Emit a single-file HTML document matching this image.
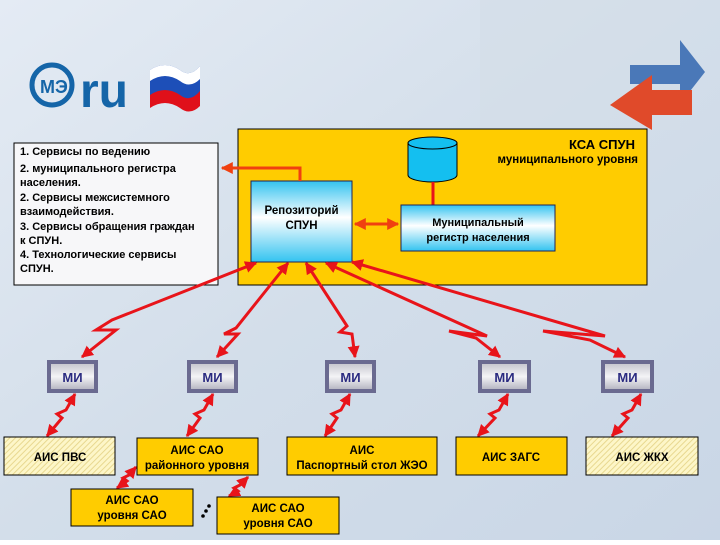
<!DOCTYPE html>
<html><head><meta charset="utf-8"><style>
body{margin:0;width:720px;height:540px;overflow:hidden;font-family:"Liberation Sans",sans-serif}
</style></head><body>
<svg width="720" height="540" viewBox="0 0 720 540" xmlns="http://www.w3.org/2000/svg" font-family="Liberation Sans, sans-serif">
<defs>
<linearGradient id="bg" x1="0" y1="0" x2="1" y2="1"><stop offset="0" stop-color="#e4ebf4"/><stop offset="0.5" stop-color="#d3deea"/><stop offset="1" stop-color="#c9d6e6"/></linearGradient>
<linearGradient id="cy" x1="0" y1="0" x2="0" y2="1"><stop offset="0" stop-color="#33c3f0"/><stop offset="0.45" stop-color="#ffffff"/><stop offset="1" stop-color="#33c3f0"/></linearGradient>
<linearGradient id="mi" x1="0" y1="0" x2="0" y2="1"><stop offset="0" stop-color="#c8c8d0"/><stop offset="0.5" stop-color="#f4f4f6"/><stop offset="1" stop-color="#b8b8c4"/></linearGradient>
<pattern id="ht" width="4" height="4" patternUnits="userSpaceOnUse" patternTransform="rotate(45)"><rect width="4" height="4" fill="#fdf6c8"/><rect width="1" height="4" fill="#e8d890"/></pattern>
<marker id="ah" viewBox="0 0 10 10" refX="9" refY="5" markerWidth="4" markerHeight="4" orient="auto-start-reverse"><path d="M0,0L10,5L0,10z" fill="#e8141a"/></marker>
<marker id="ao" viewBox="0 0 10 10" refX="9" refY="5" markerWidth="4" markerHeight="4" orient="auto-start-reverse"><path d="M0,0L10,5L0,10z" fill="#f04010"/></marker>
</defs>
<rect width="720" height="540" fill="url(#bg)"/>
<rect x="480" y="0" width="200" height="130" fill="#d4dde8" opacity="0.6"/>
<!-- logo -->
<circle cx="52" cy="85" r="20" fill="none" stroke="#1565a8" stroke-width="5"/>
<text x="40" y="93" font-size="18" font-weight="bold" fill="#1565a8">МЭ</text>
<text x="80" y="107" font-size="48" font-weight="bold" fill="#1565a8">ru</text>
<path d="M150,70 q15,-10 30,0 q10,8 20,-4 v38 q-10,10 -20,2 q-15,-10 -30,0z" fill="#1d4fb8"/>
<path d="M150,70 q15,-10 30,0 q10,8 20,-4 v13 q-10,10 -20,2 q-15,-10 -30,0z" fill="#ffffff"/>
<path d="M150,95 q15,-10 30,0 q10,8 20,-4 v15 q-10,10 -20,2 q-15,-10 -30,0z" fill="#e0101a"/>
<!-- arrows logo -->
<path d="M630,65 L680,65 L680,40 L705,72 L680,104 L680,84 L630,84z" fill="#4a78b8"/>
<path d="M692,90 L652,90 L652,75 L610,105 L652,130 L652,115 L692,115z" fill="#e04a2a"/>
<!-- text box -->
<rect x="14" y="143" width="204" height="142" fill="#f7f7f9" stroke="#000" stroke-width="1"/>
<g font-size="11" font-weight="bold" fill="#000">
<text x="20" y="155">1.      Сервисы по ведению</text>
<text x="20" y="172">2.     муниципального  регистра</text>
<text x="20" y="186">населения.</text>
<text x="20" y="201">2. Сервисы межсистемного</text>
<text x="20" y="215">взаимодействия.</text>
<text x="20" y="230">3. Сервисы обращения граждан</text>
<text x="20" y="244">к СПУН.</text>
<text x="20" y="258">4. Технологические сервисы</text>
<text x="20" y="272">СПУН.</text>
</g>
<!-- yellow KSA -->
<rect x="238" y="129" width="409" height="156" fill="#ffcc00" stroke="#000" stroke-width="1"/>
<text x="635" y="149" font-size="13" font-weight="bold" text-anchor="end">КСА СПУН</text>
<text x="638" y="163" font-size="11.5" font-weight="bold" text-anchor="end">муниципального уровня</text>
<!-- cylinder -->
<path d="M408,143 v32 a24.5,7 0 0 0 49,0 v-32z" fill="#14bff0" stroke="#000" stroke-width="1"/>
<ellipse cx="432.5" cy="143" rx="24.5" ry="6" fill="#14bff0" stroke="#000" stroke-width="1"/>
<line x1="433" y1="182" x2="433" y2="205" stroke="#e8141a" stroke-width="3"/>
<rect x="401" y="205" width="154" height="46" fill="url(#cy)" stroke="#225" stroke-width="1"/>
<text x="478" y="226" font-size="11" font-weight="bold" text-anchor="middle">Муниципальный</text>
<text x="478" y="241" font-size="11" font-weight="bold" text-anchor="middle">регистр населения</text>
<rect x="251" y="181" width="101" height="81" fill="url(#cy)" stroke="#225" stroke-width="1"/>
<text x="301.5" y="214" font-size="11.5" font-weight="bold" text-anchor="middle">Репозиторий</text>
<text x="301.5" y="229" font-size="11.5" font-weight="bold" text-anchor="middle">СПУН</text>
<line x1="355" y1="224" x2="398" y2="224" stroke="#f04010" stroke-width="3" marker-start="url(#ao)" marker-end="url(#ao)"/>
<polyline points="300,181 300,168 222,168" fill="none" stroke="#f04010" stroke-width="3" marker-end="url(#ao)"/>
<!-- lightning lines -->
<g fill="none" stroke="#e8141a" stroke-width="3" stroke-linejoin="miter" marker-start="url(#ah)" marker-end="url(#ah)">
<polyline points="256,263 112,320 96,330 116,330 82,357"/>
<polyline points="288,263 236,328 224,334 238,334 217,357"/>
<polyline points="306,263 347,326 340,332 352,334 355,357"/>
<polyline points="326,263 487,336 449,331 476,338 500,357"/>
<polyline points="352,262 605,336 543,331 590,340 625,357"/>
<polyline points="75,394 66,410 57,414 62,418 47,436"/>
<polyline points="213,394 204,410 195,414 200,418 187,436"/>
<polyline points="350,394 341,410 332,414 337,418 325,436"/>
<polyline points="508,394 499,410 490,414 495,418 478,436"/>
<polyline points="641,394 632,410 623,414 628,418 612,436"/>
<polyline points="136,467 129,475 123,478 127,481 117,488"/>
<polyline points="248,477 240,485 234,488 238,491 229,496"/>
</g>
<circle cx="203" cy="516" r="1.8"/><circle cx="206" cy="511" r="1.8"/><circle cx="209" cy="506" r="1.8"/>
<!-- MI boxes -->
<g font-size="13" font-weight="bold" fill="#2a2a80" text-anchor="middle">
<g><rect x="47" y="360" width="51" height="33" fill="#6a6a90"/><rect x="51" y="364" width="43" height="25" fill="url(#mi)"/><text x="72.5" y="382">МИ</text></g>
<g><rect x="187" y="360" width="51" height="33" fill="#6a6a90"/><rect x="191" y="364" width="43" height="25" fill="url(#mi)"/><text x="212.5" y="382">МИ</text></g>
<g><rect x="325" y="360" width="51" height="33" fill="#6a6a90"/><rect x="329" y="364" width="43" height="25" fill="url(#mi)"/><text x="350.5" y="382">МИ</text></g>
<g><rect x="478" y="360" width="53" height="33" fill="#6a6a90"/><rect x="482" y="364" width="45" height="25" fill="url(#mi)"/><text x="504.5" y="382">МИ</text></g>
<g><rect x="601" y="360" width="53" height="33" fill="#6a6a90"/><rect x="605" y="364" width="45" height="25" fill="url(#mi)"/><text x="627.5" y="382">МИ</text></g>
</g>
<!-- bottom boxes -->
<g stroke="#000" stroke-width="1">
<rect x="4" y="437" width="111" height="38" fill="url(#ht)"/>
<rect x="137" y="438" width="121" height="37" fill="#ffcc00"/>
<rect x="287" y="437" width="150" height="38" fill="#ffcc00"/>
<rect x="456" y="437" width="111" height="38" fill="#ffcc00"/>
<rect x="586" y="437" width="112" height="38" fill="url(#ht)"/>
<rect x="71" y="489" width="122" height="37" fill="#ffcc00"/>
<rect x="217" y="497" width="122" height="37" fill="#ffcc00"/>
</g>
<g font-size="11.5" font-weight="bold" text-anchor="middle" fill="#000">
<text x="60" y="461">АИС ПВС</text>
<text x="197" y="454">АИС САО</text><text x="197" y="469">районного уровня</text>
<text x="362" y="454">АИС</text><text x="362" y="469">Паспортный стол ЖЭО</text>
<text x="511" y="461">АИС ЗАГС</text>
<text x="642" y="461">АИС ЖКХ</text>
<text x="132" y="504">АИС САО</text><text x="132" y="519">уровня САО</text>
<text x="278" y="512">АИС САО</text><text x="278" y="527">уровня САО</text>
</g>
</svg>
</body></html>
